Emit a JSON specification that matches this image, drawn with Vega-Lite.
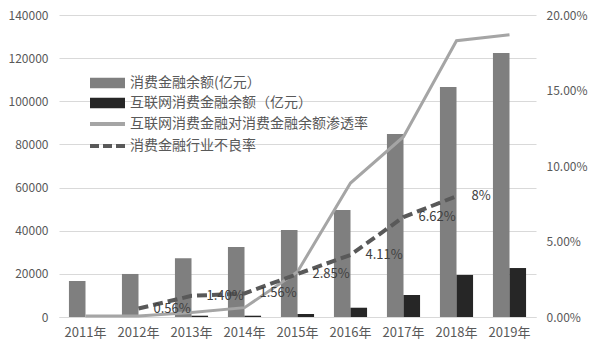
{
  "$schema": "https://vega.github.io/schema/vega-lite/v6.json",
  "width": 477,
  "height": 302,
  "autosize": {"type": "none"},
  "padding": {"left": 59, "top": 15, "right": 58, "bottom": 36},
  "background": "white",
  "config": {
    "font": "Noto Sans CJK SC",
    "view": {"stroke": null},
    "axis": {"labelFont": "Noto Sans CJK SC", "labelColor": "#595959", "ticks": false, "title": null}
  },
  "datasets": {
    "bars": [
      {"year": "2011年", "series": "消费金融余额(亿元）", "value": 16700},
      {"year": "2012年", "series": "消费金融余额(亿元）", "value": 19950},
      {"year": "2013年", "series": "消费金融余额(亿元）", "value": 27200},
      {"year": "2014年", "series": "消费金融余额(亿元）", "value": 32450},
      {"year": "2015年", "series": "消费金融余额(亿元）", "value": 40330},
      {"year": "2016年", "series": "消费金融余额(亿元）", "value": 49600},
      {"year": "2017年", "series": "消费金融余额(亿元）", "value": 84830},
      {"year": "2018年", "series": "消费金融余额(亿元）", "value": 106600},
      {"year": "2019年", "series": "消费金融余额(亿元）", "value": 122400},
      {"year": "2011年", "series": "互联网消费金融余额（亿元）", "value": 0},
      {"year": "2012年", "series": "互联网消费金融余额（亿元）", "value": 0},
      {"year": "2013年", "series": "互联网消费金融余额（亿元）", "value": 600},
      {"year": "2014年", "series": "互联网消费金融余额（亿元）", "value": 600},
      {"year": "2015年", "series": "互联网消费金融余额（亿元）", "value": 1400},
      {"year": "2016年", "series": "互联网消费金融余额（亿元）", "value": 4300},
      {"year": "2017年", "series": "互联网消费金融余额（亿元）", "value": 10200},
      {"year": "2018年", "series": "互联网消费金融余额（亿元）", "value": 19500},
      {"year": "2019年", "series": "互联网消费金融余额（亿元）", "value": 22700}
    ],
    "rates": [
      {"year": "2011年", "series": "互联网消费金融对消费金融余额渗透率", "rate": 0.0007, "label": ""},
      {"year": "2012年", "series": "互联网消费金融对消费金融余额渗透率", "rate": 0.0007, "label": ""},
      {"year": "2013年", "series": "互联网消费金融对消费金融余额渗透率", "rate": 0.003, "label": ""},
      {"year": "2014年", "series": "互联网消费金融对消费金融余额渗透率", "rate": 0.0062, "label": ""},
      {"year": "2015年", "series": "互联网消费金融对消费金融余额渗透率", "rate": 0.030, "label": ""},
      {"year": "2016年", "series": "互联网消费金融对消费金融余额渗透率", "rate": 0.0887, "label": ""},
      {"year": "2017年", "series": "互联网消费金融对消费金融余额渗透率", "rate": 0.1194, "label": ""},
      {"year": "2018年", "series": "互联网消费金融对消费金融余额渗透率", "rate": 0.183, "label": ""},
      {"year": "2019年", "series": "互联网消费金融对消费金融余额渗透率", "rate": 0.1869, "label": ""},
      {"year": "2012年", "series": "消费金融行业不良率", "rate": 0.0056, "label": "0.56%"},
      {"year": "2013年", "series": "消费金融行业不良率", "rate": 0.014, "label": "1.40%"},
      {"year": "2014年", "series": "消费金融行业不良率", "rate": 0.0156, "label": "1.56%"},
      {"year": "2015年", "series": "消费金融行业不良率", "rate": 0.0285, "label": "2.85%"},
      {"year": "2016年", "series": "消费金融行业不良率", "rate": 0.0411, "label": "4.11%"},
      {"year": "2017年", "series": "消费金融行业不良率", "rate": 0.0662, "label": "6.62%"},
      {"year": "2018年", "series": "消费金融行业不良率", "rate": 0.08, "label": "8%"}
    ]
  },
  "layer": [
    {
      "data": {"name": "bars"},
      "mark": {"type": "bar"},
      "encoding": {
        "x": {
          "field": "year", "type": "nominal", "sort": null,
          "scale": {"paddingInner": 0, "paddingOuter": 0},
          "axis": {"labelAngle": 0, "labelFontSize": 13, "labelPadding": 9, "domain": true, "domainColor": "#d9d9d9", "grid": false}
        },
        "xOffset": {
          "field": "series", "type": "nominal",
          "sort": ["消费金融余额(亿元）", "互联网消费金融余额（亿元）"],
          "scale": {"paddingInner": 0, "paddingOuter": 0.6}
        },
        "y": {
          "field": "value", "type": "quantitative",
          "scale": {"domain": [0, 140000], "nice": false},
          "axis": {"values": [0, 20000, 40000, 60000, 80000, 100000, 120000, 140000], "format": "d", "labelFontSize": 12, "labelPadding": 11, "domain": false, "grid": true, "gridColor": "#d9d9d9"}
        },
        "color": {
          "field": "series", "type": "nominal",
          "scale": {
            "domain": ["消费金融余额(亿元）", "互联网消费金融余额（亿元）", "互联网消费金融对消费金融余额渗透率", "消费金融行业不良率"],
            "range": ["#7f7f7f", "#262626", "#a5a5a5", "#595959"]
          },
          "legend": {
            "orient": "none", "legendX": 31, "legendY": 61, "title": null, "padding": 0,
            "labelFontSize": 14, "labelColor": "#595959", "labelFont": "Noto Sans CJK SC", "labelLimit": 0,
            "symbolSize": 1225, "labelOffset": 5, "rowPadding": 6,
            "encode": {
              "symbols": {
                "update": {
                  "x": {"value": 17.5},
                  "size": {"value": 1225},
                  "shape": {"signal": "indexof(['消费金融余额(亿元）','互联网消费金融余额（亿元）'], datum.value) >= 0 ? 'M-1,-0.3H1V0.3H-1Z' : 'stroke'"},
                  "fill": {"signal": "indexof(['消费金融余额(亿元）','互联网消费金融余额（亿元）'], datum.value) >= 0 ? scale('color', datum.value) : 'transparent'"},
                  "stroke": {"signal": "scale('color', datum.value)"},
                  "strokeWidth": {"signal": "indexof(['消费金融余额(亿元）','互联网消费金融余额（亿元）'], datum.value) >= 0 ? 0 : 4"},
                  "strokeDash": {"signal": "datum.value == '消费金融行业不良率' ? [9, 4] : [1, 0]"},
                  "opacity": {"value": 1}
                }
              },
              "labels": {
                "update": {"x": {"value": 40}}
              }
            }
          }
        }
      }
    },
    {
      "data": {"name": "rates"},
      "encoding": {
        "x": {"field": "year", "type": "nominal", "sort": null},
        "y": {
          "field": "rate", "type": "quantitative",
          "scale": {"domain": [0, 0.2], "nice": false},
          "axis": {"orient": "right", "values": [0, 0.05, 0.1, 0.15, 0.2], "format": ".2%", "labelFontSize": 12, "labelPadding": 10, "domain": false, "grid": false}
        }
      },
      "layer": [
        {
          "transform": [{"filter": "datum.series == '互联网消费金融对消费金融余额渗透率'"}],
          "mark": {"type": "line", "strokeWidth": 3},
          "encoding": {"color": {"field": "series", "type": "nominal"}}
        },
        {
          "transform": [{"filter": "datum.series == '消费金融行业不良率'"}],
          "mark": {"type": "line", "strokeWidth": 4, "strokeDash": [10, 5]},
          "encoding": {"color": {"field": "series", "type": "nominal"}}
        },
        {
          "transform": [{"filter": "datum.series == '消费金融行业不良率'"}],
          "mark": {"type": "text", "align": "left", "baseline": "middle", "dx": 15, "fontSize": 13, "color": "#404040", "font": "Noto Sans CJK SC"},
          "encoding": {"text": {"field": "label"}}
        }
      ]
    }
  ],
  "resolve": {"scale": {"y": "independent"}}
}
